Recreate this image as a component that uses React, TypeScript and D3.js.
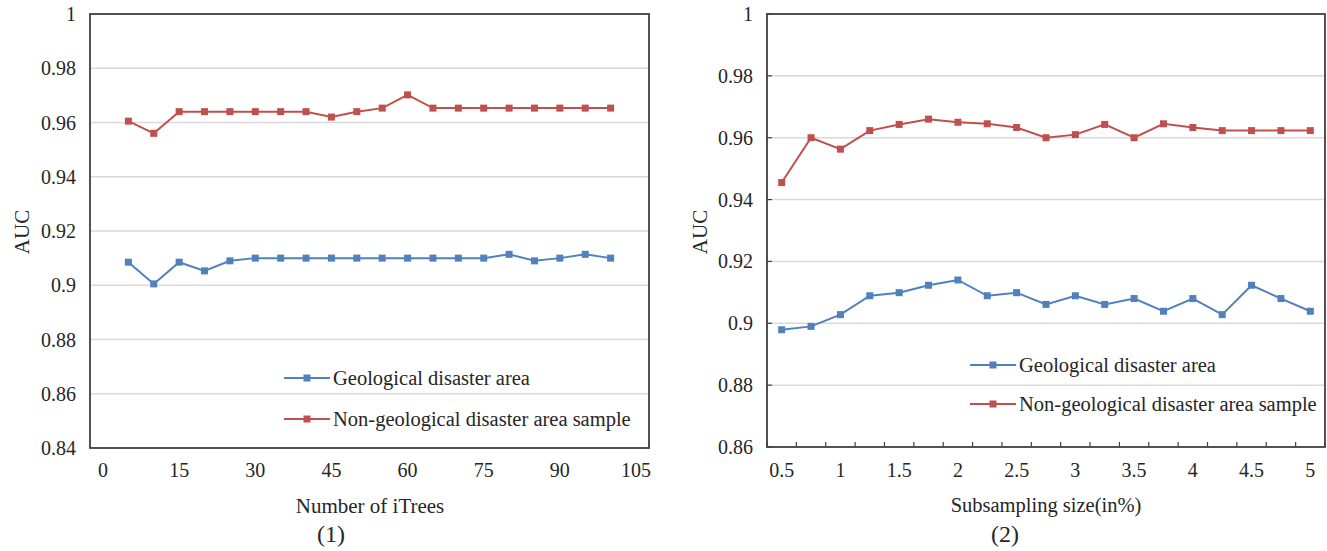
import React, { useEffect, useRef } from "react";
import * as d3 from "d3";

// chart (1): number of iTrees
const treeCounts = [5, 10, 15, 20, 25, 30, 35, 40, 45, 50, 55, 60, 65, 70, 75, 80, 85, 90, 95, 100];
const treeGeo = [0.9085, 0.9005, 0.9085, 0.9053, 0.909, 0.910, 0.910, 0.910, 0.910, 0.910, 0.910, 0.910, 0.910, 0.910, 0.910, 0.9114, 0.909, 0.910, 0.9114, 0.910];
const treeNonGeo = [0.9605, 0.956, 0.964, 0.964, 0.964, 0.964, 0.964, 0.964, 0.962, 0.964, 0.9653, 0.9702, 0.9653, 0.9653, 0.9653, 0.9653, 0.9653, 0.9653, 0.9653, 0.9653];
const treeXTicks = [0, 15, 30, 45, 60, 75, 90, 105];
const treeYTicks = [0.84, 0.86, 0.88, 0.9, 0.92, 0.94, 0.96, 0.98, 1];

// chart (2): subsampling size
const sizes = ["0.5", "0.75", "1", "1.25", "1.5", "1.75", "2", "2.25", "2.5", "2.75", "3", "3.25", "3.5", "3.75", "4", "4.25", "4.5", "4.75", "5"];
const sizeGeo = [0.8979, 0.899, 0.9028, 0.9089, 0.9099, 0.9123, 0.914, 0.9089, 0.9099, 0.9061, 0.9089, 0.9061, 0.908, 0.9039, 0.908, 0.9028, 0.9123, 0.908, 0.9039];
const sizeNonGeo = [0.9455, 0.960, 0.9563, 0.9623, 0.9643, 0.966, 0.965, 0.9645, 0.9633, 0.960, 0.961, 0.9643, 0.960, 0.9645, 0.9633, 0.9623, 0.9623, 0.9623, 0.9623];
const sizeYTicks = [0.86, 0.88, 0.9, 0.92, 0.94, 0.96, 0.98, 1];

const seriesNames = ["Geological disaster area", "Non-geological disaster area sample"];
const BLUE = "#4f81bd";
const RED = "#c0504d";
const FONT = "'Liberation Serif', 'Times New Roman', serif";

export default function App() {
  const ref = useRef<SVGSVGElement>(null);

  useEffect(() => {
    const svg = d3.select(ref.current);
    svg.selectAll("*").remove();

    const drawFrame = (box: { l: number; r: number; t: number; b: number }, y: d3.ScaleLinear<number, number>, ticks: number[], yTickMarks: boolean) => {
      const g = svg.append("g");
      g.selectAll("line.grid")
        .data(ticks.slice(1, -1))
        .join("line")
        .attr("x1", box.l)
        .attr("x2", box.r)
        .attr("y1", (d) => y(d))
        .attr("y2", (d) => y(d))
        .attr("stroke", "#d9d9d9")
        .attr("stroke-width", 1.5);
      if (yTickMarks) {
        g.selectAll("line.yt")
          .data(ticks)
          .join("line")
          .attr("x1", box.l)
          .attr("x2", box.l + 5)
          .attr("y1", (d) => y(d))
          .attr("y2", (d) => y(d))
          .attr("stroke", "#404040")
          .attr("stroke-width", 1.2);
      }
      g.append("rect")
        .attr("x", box.l)
        .attr("y", box.t)
        .attr("width", box.r - box.l)
        .attr("height", box.b - box.t)
        .attr("fill", "none")
        .attr("stroke", "#404040")
        .attr("stroke-width", 1.8);
      g.selectAll("text.yl")
        .data(ticks)
        .join("text")
        .attr("x", box.l - 14)
        .attr("y", (d) => y(d))
        .attr("dy", "0.35em")
        .attr("text-anchor", "end")
        .attr("font-family", FONT)
        .attr("font-size", 20)
        .attr("fill", "#262626")
        .text((d) => d3.format("")(d));
      return g;
    };

    const drawSeries = (pts: [number, number][], color: string) => {
      const g = svg.append("g");
      g.append("path")
        .attr("d", d3.line()(pts))
        .attr("fill", "none")
        .attr("stroke", color)
        .attr("stroke-width", 2);
      g.selectAll("rect")
        .data(pts)
        .join("rect")
        .attr("x", (d) => d[0] - 3.5)
        .attr("y", (d) => d[1] - 3.5)
        .attr("width", 7)
        .attr("height", 7)
        .attr("fill", color);
    };

    const drawLegend = (x: number, ys: number[]) => {
      [BLUE, RED].forEach((c, i) => {
        const g = svg.append("g").attr("transform", `translate(${x},${ys[i]})`);
        g.append("line").attr("x1", 0).attr("x2", 46).attr("stroke", c).attr("stroke-width", 2);
        g.append("rect").attr("x", 19.5).attr("y", -3.5).attr("width", 7).attr("height", 7).attr("fill", c);
        g.append("text")
          .attr("x", 49)
          .attr("dy", "0.35em")
          .attr("font-family", FONT)
          .attr("font-size", 20.5)
          .attr("fill", "#262626")
          .text(seriesNames[i]);
      });
    };

    const label = (x: number, y: number, txt: string, rot = false, size = 19) => {
      svg.append("text")
        .attr("transform", `translate(${x},${y})${rot ? " rotate(-90)" : ""}`)
        .attr("text-anchor", "middle")
        .attr("dy", "0.35em")
        .attr("font-family", FONT)
        .attr("font-size", size)
        .attr("fill", "#262626")
        .text(txt);
    };

    // ---- chart 1
    const box1 = { l: 90, r: 649, t: 14, b: 448 };
    const x1 = d3.scaleLinear().domain([0, 105]).range([103, 636]);
    const y1 = d3.scaleLinear().domain([0.84, 1]).range([box1.b, box1.t]);
    drawFrame(box1, y1, treeYTicks, false);
    svg.append("g")
      .selectAll("text")
      .data(treeXTicks)
      .join("text")
      .attr("x", (d) => x1(d))
      .attr("y", 470)
      .attr("dy", "0.35em")
      .attr("text-anchor", "middle")
      .attr("font-family", FONT)
      .attr("font-size", 20)
      .attr("fill", "#262626")
      .text((d) => d);
    drawSeries(treeCounts.map((c, i) => [x1(c), y1(treeGeo[i])]), BLUE);
    drawSeries(treeCounts.map((c, i) => [x1(c), y1(treeNonGeo[i])]), RED);
    drawLegend(284, [378, 419]);
    label(22, 232, "AUC", true, 21);
    label(370, 506, "Number of iTrees", false, 21);
    label(331, 534, "(1)", false, 24);

    // ---- chart 2
    const box2 = { l: 767, r: 1325, t: 14, b: 447 };
    const x2 = d3.scaleBand().domain(sizes).range([box2.l, box2.r]);
    const y2 = d3.scaleLinear().domain([0.86, 1]).range([box2.b, box2.t]);
    const fr = drawFrame(box2, y2, sizeYTicks, true);
    const bounds = sizes.map((s) => x2(s) as number).concat([box2.r]);
    fr.selectAll("line.xt")
      .data(bounds)
      .join("line")
      .attr("x1", (d) => d)
      .attr("x2", (d) => d)
      .attr("y1", box2.b)
      .attr("y2", box2.b - 5)
      .attr("stroke", "#404040")
      .attr("stroke-width", 1.2);
    const cx = (s: string) => (x2(s) as number) + x2.bandwidth() / 2;
    svg.append("g")
      .selectAll("text")
      .data(sizes.filter((_, i) => i % 2 === 0))
      .join("text")
      .attr("x", (d) => cx(d))
      .attr("y", 470)
      .attr("dy", "0.35em")
      .attr("text-anchor", "middle")
      .attr("font-family", FONT)
      .attr("font-size", 20)
      .attr("fill", "#262626")
      .text((d) => d);
    drawSeries(sizes.map((s, i) => [cx(s), y2(sizeGeo[i])]), BLUE);
    drawSeries(sizes.map((s, i) => [cx(s), y2(sizeNonGeo[i])]), RED);
    drawLegend(970, [365, 404]);
    label(700, 232, "AUC", true, 21);
    label(1046, 505, "Subsampling size(in%)", false, 20.5);
    label(1005, 534, "(2)", false, 24);
  }, []);

  return (
    <svg
      ref={ref}
      width={1327}
      height={551}
      style={{ position: "absolute", left: 0, top: 0, background: "#fff" }}
    />
  );
}
